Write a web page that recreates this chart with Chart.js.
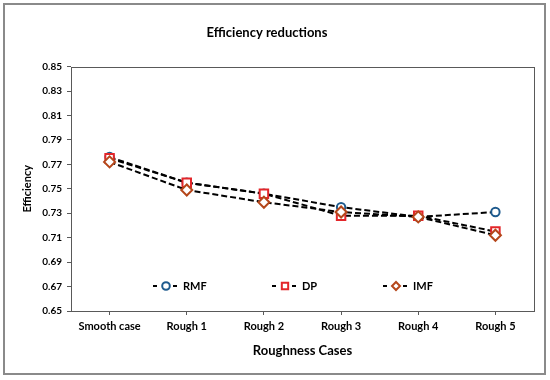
<!DOCTYPE html>
<html><head><meta charset="utf-8">
<script src="https://cdn.jsdelivr.net/npm/chart.js@4/dist/chart.umd.min.js"></script>
<style>html,body{margin:0;padding:0;background:#fff}#wrap{width:550px;height:380px;position:relative}</style>
</head><body><div id="wrap"><canvas id="c" width="550" height="380"></canvas></div>
<script>
const categories = ['Smooth case', 'Rough 1', 'Rough 2', 'Rough 3', 'Rough 4', 'Rough 5'];
const rmfValues = [0.776, 0.755, 0.746, 0.735, 0.727, 0.731];
const dpValues  = [0.775, 0.755, 0.746, 0.728, 0.728, 0.715];
const imfValues = [0.772, 0.749, 0.739, 0.731, 0.727, 0.712];
const seriesNames = ['RMF', 'DP', 'IMF'];
const yMin = 0.65, yMax = 0.85, yStep = 0.02;

const FONT = 'Lato, "Open Sans", sans-serif';
const AXIS_COLOR = '#595959';

function ds(label, data, color, style, radius, order) {
  return {
    label, data, order,
    borderColor: '#000', borderWidth: 2, borderDash: [6, 3],
    pointStyle: style, pointRadius: radius, pointHoverRadius: radius,
    pointBorderColor: color, pointBackgroundColor: '#fff', pointBorderWidth: 2,
    fill: false, tension: 0, markerColor: color
  };
}

const frame = {
  id: 'frame',
  beforeDraw(chart) {
    const ctx = chart.ctx;
    ctx.save();
    ctx.fillStyle = '#fff';
    ctx.fillRect(0, 0, chart.width, chart.height);
    ctx.strokeStyle = '#8a8a8a';
    ctx.lineWidth = 2;
    ctx.strokeRect(4, 4, 541, 370);
    ctx.restore();
  },
  afterDraw(chart) {
    const a = chart.chartArea, ctx = chart.ctx;
    ctx.save();
    ctx.strokeStyle = AXIS_COLOR;
    ctx.lineWidth = 1;
    ctx.strokeRect(Math.round(a.left) + 0.5, Math.round(a.top) + 0.5,
      Math.round(a.right - a.left), Math.round(a.bottom - a.top));
    ctx.restore();
  }
};

const innerLegend = {
  id: 'innerLegend',
  afterDraw(chart) {
    const a = chart.chartArea, ctx = chart.ctx;
    const y = a.bottom - 25;
    const offsets = [95, 214, 325];
    const radii = [3.8, 4.5, 4];
    chart.data.datasets.forEach((d, i) => {
      const mx = a.left + offsets[i];
      ctx.save();
      ctx.strokeStyle = '#000';
      ctx.lineWidth = 2;
      ctx.beginPath();
      ctx.moveTo(mx - 13, y); ctx.lineTo(mx - 9, y);
      ctx.moveTo(mx + 7, y); ctx.lineTo(mx + 11, y);
      ctx.stroke();
      ctx.strokeStyle = d.markerColor;
      ctx.fillStyle = '#fff';
      ctx.lineWidth = 2;
      Chart.helpers.drawPoint(ctx, {pointStyle: d.pointStyle, radius: radii[i], borderWidth: 2, rotation: 0}, mx, y);
      ctx.fillStyle = '#000';
      ctx.font = 'bold 11px ' + FONT;
      ctx.textBaseline = 'middle';
      ctx.textAlign = 'left';
      ctx.fillText(d.label, mx + 17, y + 0.5);
      ctx.restore();
    });
  }
};

new Chart(document.getElementById('c'), {
  type: 'line',
  data: {
    labels: categories,
    datasets: [
      ds(seriesNames[0], rmfValues, '#1f5b8e', 'circle', 4.2, 2),
      ds(seriesNames[1], dpValues, '#e3262a', 'rect', 6, 1),
      ds(seriesNames[2], imfValues, '#b5471b', 'rectRot', 5.5, 0)
    ]
  },
  options: {
    responsive: false, animation: false, devicePixelRatio: 1,
    layout: {padding: {left: 0, right: 16, top: 0, bottom: 0}},
    plugins: {
      legend: {display: false},
      tooltip: {enabled: false},
      title: {
        display: true, text: 'Efficiency reductions', color: '#000',
        font: {family: FONT, size: 13, weight: 'bold'},
        padding: {top: 25, bottom: 26}
      }
    },
    scales: {
      x: {
        type: 'category', offset: true,
        grid: {display: true, drawOnChartArea: false, drawTicks: true, tickLength: 4, color: AXIS_COLOR, offset: false},
        border: {display: false},
        ticks: {color: '#000', font: {family: FONT, size: 11, weight: 'bold'}, padding: 5, maxRotation: 0, autoSkip: false},
        title: {display: true, text: 'Roughness Cases', color: '#000', font: {family: FONT, size: 13, weight: 'bold'}, padding: {top: 4, bottom: 21}},
        afterFit(s) { s.height = 69; }
      },
      y: {
        min: yMin, max: yMax,
        grid: {display: true, drawOnChartArea: false, drawTicks: true, tickLength: 4, color: AXIS_COLOR},
        border: {display: false},
        ticks: {stepSize: yStep, color: '#000', font: {family: FONT, size: 10, weight: 'bold'}, padding: 5,
          callback: v => Number(v).toFixed(2)},
        title: {display: true, text: 'Efficiency', color: '#000', font: {family: FONT, size: 11, weight: 'bold'}, padding: {top: 21, bottom: 4}},
        afterFit(s) { s.width = 71; }
      }
    }
  },
  plugins: [frame, innerLegend]
});
</script>
</body></html>
